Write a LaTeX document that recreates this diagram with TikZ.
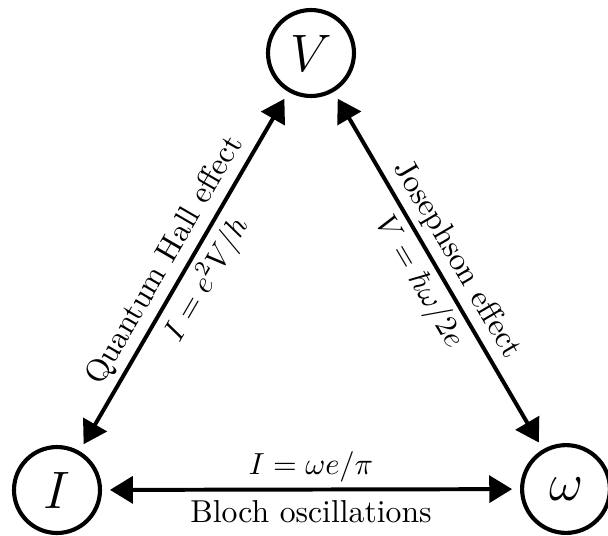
\documentclass[tikz,border=0pt]{standalone}
\usetikzlibrary{arrows.meta}
\begin{document}
\begin{tikzpicture}[x=0.328pt,y=-0.328pt,
  qty/.style={circle,draw,line width=1.35pt,minimum size=28.2pt,inner sep=0pt,font=\fontsize{16}{19}\selectfont},
  link/.style={line width=1.3pt,{Triangle[length=7.5pt,width=8.8pt]}-{Triangle[length=7.5pt,width=8.8pt]},shorten <=2.6pt,shorten >=2.6pt},
  lab/.style={font=\fontsize{10.4}{12}\selectfont,inner sep=1.8pt}]
\useasboundingbox (0,0) rectangle (608,535);
\node[qty] (V) at (311,53) {$V$};
\node[qty] (I) at (57,490) {$I$};
\node[qty,minimum size=28.8pt] (w) at (566,489) {$\omega$};
\draw[link] (I) -- node[lab,sloped,above]{Quantum Hall effect} node[lab,sloped,below,pos=0.51]{$I=e^2V/h$} (V);
\draw[link] (V) -- node[lab,sloped,above]{Josephson effect} node[lab,sloped,below]{$V=\hbar\omega/2e$} (w);
\draw[link] (I) -- node[lab,above]{$I=\omega e/\pi$} node[lab,below,inner sep=2.8pt]{Bloch oscillations} (w);
\end{tikzpicture}
\end{document}
